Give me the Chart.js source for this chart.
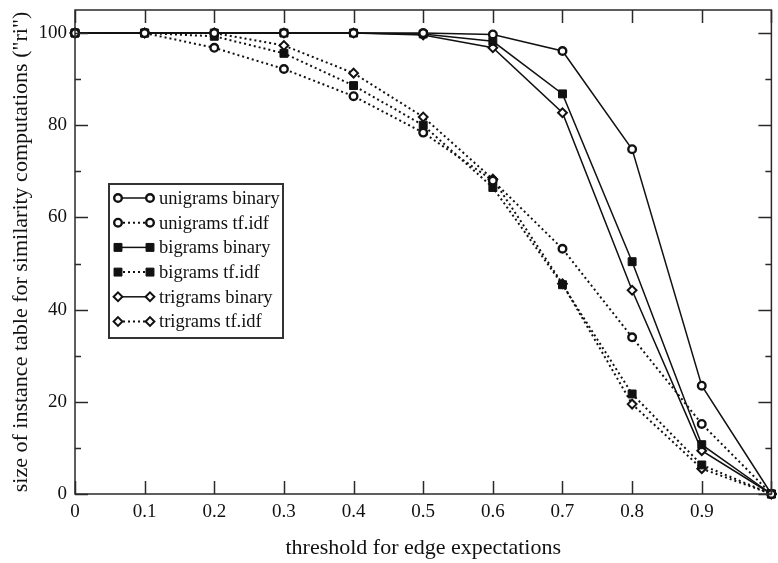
<!DOCTYPE html>
<html>
<head>
<meta charset="utf-8">
<script src="https://cdn.jsdelivr.net/npm/chart.js@4/dist/chart.umd.min.js"></script>
<style>
    html, body {margin: 0; padding: 0; background: #fff;}
    #wrap {width: 778px; height: 563px;}
</style>
</head>
<body>
<div id="wrap"><canvas id="chart" width="778" height="563"></canvas></div>
<script>
const thresholds = [0, 0.1, 0.2, 0.3, 0.4, 0.5, 0.6, 0.7, 0.8, 0.9, 1.0];

const uniBinary = [100, 100, 100, 100, 100, 100, 99.7, 96.1, 74.8, 23.5, 0];
const uniTfidf = [100, 100, 96.8, 92.2, 86.3, 78.4, 68.0, 53.2, 34.0, 15.2, 0];
const biBinary = [100, 100, 100, 100, 100, 99.8, 98.2, 86.8, 50.4, 10.7, 0];
const biTfidf = [100, 100, 99.3, 95.6, 88.6, 80.0, 66.5, 45.4, 21.7, 6.3, 0];
const triBinary = [100, 100, 100, 100, 100, 99.6, 96.8, 82.7, 44.2, 9.4, 0];
const triTfidf = [100, 100, 100, 97.3, 91.3, 81.8, 68.3, 45.6, 19.5, 5.5, 0];

const seriesLabels = ["unigrams binary", "unigrams tf.idf", "bigrams binary", "bigrams tf.idf", "trigrams binary", "trigrams tf.idf"];

const xTitle = "threshold for edge expectations";
const yTitle = "size of instance table for similarity computations (\"ri\")";

const serif = "'Liberation Serif', 'Times New Roman', serif";
const ink = "#111";
const dotted = [2, 3];

const toPoints = ys => ys.map((y, i) => ({x: thresholds[i], y}));

const styles = {
    circle: {pointStyle: "circle", pointRadius: 3.8, pointBorderWidth: 2.4, pointBackgroundColor: "#fff"},
    rect: {pointStyle: "rect", pointRadius: 5.6, pointBorderWidth: 1, pointBackgroundColor: ink},
    rectRot: {pointStyle: "rectRot", pointRadius: 4.4, pointBorderWidth: 2, pointBackgroundColor: "#fff"}
};

const makeSet = (label, ys, marker, dash) => ({
    label,
    data: toPoints(ys),
    borderColor: ink,
    borderWidth: dash ? 2 : 1.5,
    borderDash: dash || [],
    pointBorderColor: ink,
    tension: 0,
    clip: false,
    ...styles[marker]
});

const datasets = [
    makeSet(seriesLabels[0], uniBinary, "circle", null),
    makeSet(seriesLabels[1], uniTfidf, "circle", dotted),
    makeSet(seriesLabels[2], biBinary, "rect", null),
    makeSet(seriesLabels[3], biTfidf, "rect", dotted),
    makeSet(seriesLabels[4], triBinary, "rectRot", null),
    makeSet(seriesLabels[5], triTfidf, "rectRot", dotted)
];

function marker(ctx, style, x, y, ds) {
    const r = ds.pointRadius;
    ctx.save();
    ctx.setLineDash([]);
    ctx.lineWidth = ds.pointBorderWidth;
    ctx.strokeStyle = ink;
    ctx.fillStyle = ds.pointBackgroundColor;
    ctx.beginPath();
    if (style === "circle") {
        ctx.arc(x, y, r, 0, Math.PI * 2);
    } else if (style === "rect") {
        const s = r * Math.SQRT1_2;
        ctx.rect(x - s, y - s, 2 * s, 2 * s);
    } else {
        ctx.moveTo(x, y - r);
        ctx.lineTo(x + r, y);
        ctx.lineTo(x, y + r);
        ctx.lineTo(x - r, y);
        ctx.closePath();
    }
    ctx.fill();
    ctx.stroke();
    ctx.restore();
}

// frame with inward ticks on all four sides, plus the boxed legend
const framePlugin = {
    id: "frame",
    afterDraw(chart) {
        const {ctx, chartArea: a, scales} = chart;
        ctx.save();
        ctx.strokeStyle = "#2a2a2a";
        ctx.lineWidth = 1.5;
        ctx.strokeRect(a.left, a.top, a.right - a.left, a.bottom - a.top);

        ctx.beginPath();
        for (let i = 0; i <= 10; i++) {
            const px = Math.round(scales.x.getPixelForValue(i / 10)) + 0.5;
            ctx.moveTo(px, a.bottom); ctx.lineTo(px, a.bottom - 13);
            ctx.moveTo(px, a.top); ctx.lineTo(px, a.top + 13);
        }
        for (let v = 0; v <= 100; v += 10) {
            const py = Math.round(scales.y.getPixelForValue(v)) + 0.5;
            const len = v % 20 === 0 ? 13 : 6;
            ctx.moveTo(a.left, py); ctx.lineTo(a.left + len, py);
            ctx.moveTo(a.right, py); ctx.lineTo(a.right - len, py);
        }
        ctx.stroke();

        // legend
        const box = {x: 109, y: 184, w: 174, h: 154};
        ctx.lineWidth = 2;
        ctx.strokeStyle = "#333";
        ctx.fillStyle = "#fff";
        ctx.fillRect(box.x, box.y, box.w, box.h);
        ctx.strokeRect(box.x, box.y, box.w, box.h);

        ctx.font = "18.5px " + serif;
        ctx.textBaseline = "middle";
        ctx.textAlign = "left";
        chart.data.datasets.forEach((ds, i) => {
            const y = 198 + i * 24.7;
            ctx.save();
            ctx.strokeStyle = ink;
            ctx.lineWidth = ds.borderWidth;
            ctx.setLineDash(ds.borderDash);
            ctx.beginPath();
            ctx.moveTo(118, y); ctx.lineTo(150, y);
            ctx.stroke();
            ctx.restore();
            marker(ctx, ds.pointStyle, 118, y, ds);
            marker(ctx, ds.pointStyle, 150, y, ds);
            ctx.fillStyle = ink;
            ctx.fillText(ds.label, 159, y + 1);
        });
        ctx.restore();
    }
};

new Chart(document.getElementById("chart"), {
    type: "line",
    data: {datasets},
    plugins: [framePlugin],
    options: {
        responsive: false,
        animation: false,
        layout: {padding: {top: 10, right: 1, left: 0, bottom: 0}},
        plugins: {legend: {display: false}, tooltip: {enabled: false}},
        scales: {
            x: {
                type: "linear",
                min: 0,
                max: 1,
                grid: {display: false, drawTicks: false},
                border: {display: false},
                ticks: {
                    stepSize: 0.1,
                    padding: 7,
                    color: ink,
                    font: {family: serif, size: 19},
                    maxRotation: 0,
                    autoSkip: false,
                    callback: v => {
                        const r = Math.round(v * 10) / 10;
                        return r >= 1 ? "" : String(r);
                    }
                },
                title: {display: true, text: xTitle, color: ink, font: {family: serif, size: 22}, padding: {top: 0, bottom: 2}},
                afterFit: s => { s.height = 69; s.paddingLeft = 0; s.paddingRight = 0; }
            },
            y: {
                min: 0,
                max: 105,
                grid: {display: false, drawTicks: false},
                border: {display: false},
                ticks: {
                    stepSize: 20,
                    includeBounds: false,
                    padding: 8,
                    color: ink,
                    font: {family: serif, size: 19}
                },
                title: {display: true, text: yTitle, color: ink, font: {family: serif, size: 22}, padding: {top: 8, bottom: 0}},
                afterFit: s => { s.width = 75; s.paddingTop = 0; s.paddingBottom = 0; }
            }
        }
    }
});
</script>
</body>
</html>
